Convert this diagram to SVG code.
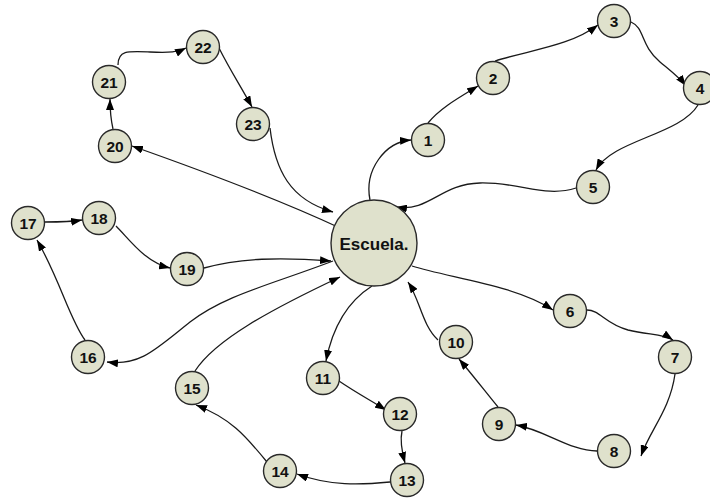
<svg xmlns="http://www.w3.org/2000/svg" width="710" height="498" viewBox="0 0 710 498">
  <style>
    .node circle { fill: #dfe1cc; stroke: #2a2a2a; stroke-width: 1.4; }
    .node text { font-family: "Liberation Sans", Arial, sans-serif; font-weight: bold; font-size: 15.5px; fill: #111; text-anchor: middle; dominant-baseline: central; }
    #escuela text { font-size: 17px; }
    .edges path { fill: none; stroke: #1a1a1a; stroke-width: 1.3; marker-end: url(#arrow); }
  </style>
  <defs>
    <marker id="arrow" markerUnits="userSpaceOnUse" markerWidth="11" markerHeight="8" refX="11" refY="4" orient="auto">
      <path d="M0,0 L11,4 L0,8 z" fill="#000"/>
    </marker>
  </defs>
  <rect width="710" height="498" fill="#fff"/>

  <g class="edges">
    <path d="M370,200 C364,170 385,142 411,140"/>
    <path d="M428,123 C440,108 460,97 478,86"/>
    <path d="M495,61 C530,50 570,46 598,25"/>
    <path d="M631,22 C645,28 640,45 660,62 C672,72 680,78 686,86"/>
    <path d="M698,105 C680,135 612,140 596,170"/>
    <path d="M576,188 C545,198 520,182 480,183 C440,184 430,212 396,207"/>
    <path d="M412,266 C450,278 515,285 553,310"/>
    <path d="M587,310 C600,310 605,324 628,330 C650,335 664,334 673,340"/>
    <path d="M675,374 C670,410 650,430 641,456"/>
    <path d="M597,451 C570,451 545,430 516,425"/>
    <path d="M498,407 C488,395 475,378 459,359"/>
    <path d="M438,340 C422,325 420,300 408,282"/>
    <path d="M372,286 C350,300 333,325 326,361"/>
    <path d="M339,381 C355,392 370,400 386,410"/>
    <path d="M402,431 C400,440 402,452 405,463"/>
    <path d="M390,482 C360,485 330,486 297,474"/>
    <path d="M267,462 C245,435 230,418 196,405"/>
    <path d="M195,371 C215,340 270,310 340,277"/>
    <path d="M333,261 C270,285 225,295 190,322 C155,350 140,366 107,362"/>
    <path d="M85,340 C70,320 60,280 37,240"/>
    <path d="M45,222 C58,222 70,222 82,220"/>
    <path d="M116,226 C130,240 145,262 170,268"/>
    <path d="M204,268 C240,258 280,257 331,261"/>
    <path d="M340,228 C280,200 200,170 132,146"/>
    <path d="M113,129 C111,120 110,110 110,99"/>
    <path d="M118,65 C118,50 128,51 150,52 C170,53 178,52 186,48"/>
    <path d="M219,48 C230,70 240,85 252,107"/>
    <path d="M270,128 C275,170 290,200 333,212"/>
  </g>

  <g id="escuela" class="node"><circle cx="374" cy="243" r="43"/><text x="374" y="244">Escuela.</text></g>
  <g id="n1" class="node"><circle cx="428" cy="140" r="16.5"/><text x="428" y="140">1</text></g>
  <g id="n2" class="node"><circle cx="493" cy="78" r="16.5"/><text x="493" y="78">2</text></g>
  <g id="n3" class="node"><circle cx="614" cy="21" r="16.5"/><text x="614" y="21">3</text></g>
  <g id="n4" class="node"><circle cx="700" cy="88" r="16.5"/><text x="700" y="88">4</text></g>
  <g id="n5" class="node"><circle cx="593" cy="187" r="16.5"/><text x="593" y="187">5</text></g>
  <g id="n6" class="node"><circle cx="570" cy="311" r="16.5"/><text x="570" y="311">6</text></g>
  <g id="n7" class="node"><circle cx="675" cy="357" r="16.5"/><text x="675" y="357">7</text></g>
  <g id="n8" class="node"><circle cx="614" cy="451" r="16.5"/><text x="614" y="451">8</text></g>
  <g id="n9" class="node"><circle cx="499" cy="424" r="16.5"/><text x="499" y="424">9</text></g>
  <g id="n10" class="node"><circle cx="456" cy="342" r="16.5"/><text x="456" y="342">10</text></g>
  <g id="n11" class="node"><circle cx="323" cy="378" r="16.5"/><text x="323" y="378">11</text></g>
  <g id="n12" class="node"><circle cx="400" cy="414" r="16.5"/><text x="400" y="414">12</text></g>
  <g id="n13" class="node"><circle cx="407" cy="480" r="16.5"/><text x="407" y="480">13</text></g>
  <g id="n14" class="node"><circle cx="280" cy="471" r="16.5"/><text x="280" y="471">14</text></g>
  <g id="n15" class="node"><circle cx="192" cy="388" r="16.5"/><text x="192" y="388">15</text></g>
  <g id="n16" class="node"><circle cx="88" cy="357" r="16.5"/><text x="88" y="357">16</text></g>
  <g id="n17" class="node"><circle cx="28" cy="223" r="16.5"/><text x="28" y="223">17</text></g>
  <g id="n18" class="node"><circle cx="99" cy="218" r="16.5"/><text x="99" y="218">18</text></g>
  <g id="n19" class="node"><circle cx="187" cy="269" r="16.5"/><text x="187" y="269">19</text></g>
  <g id="n20" class="node"><circle cx="115" cy="146" r="16.5"/><text x="115" y="146">20</text></g>
  <g id="n21" class="node"><circle cx="109" cy="82" r="16.5"/><text x="109" y="82">21</text></g>
  <g id="n22" class="node"><circle cx="203" cy="47" r="16.5"/><text x="203" y="47">22</text></g>
  <g id="n23" class="node"><circle cx="253" cy="124" r="16.5"/><text x="253" y="124">23</text></g>
</svg>
